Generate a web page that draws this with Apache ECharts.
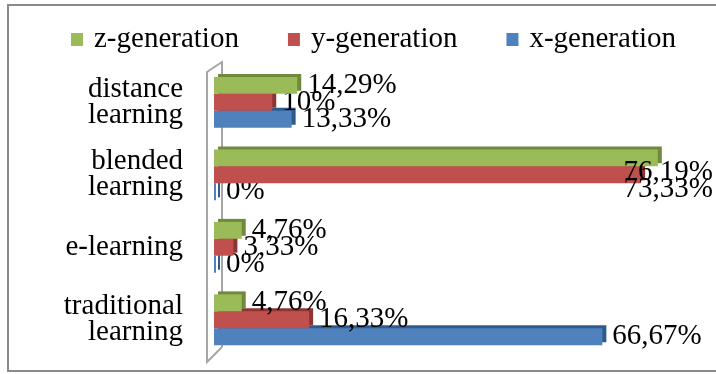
<!DOCTYPE html>
<html>
<head>
<meta charset="utf-8">
<script src="https://cdn.jsdelivr.net/npm/echarts@6/dist/echarts.min.js"></script>
<style>
html, body { margin: 0; padding: 0; background: #fff; }
#main { width: 716px; height: 374px; }
</style>
</head>
<body>
<div id="main"></div>
<script>
// categories, bottom to top
var categories = ['traditional\nlearning', 'e-learning', 'blended\nlearning', 'distance\nlearning'];
var xGeneration = [66.67, 0, 0, 13.33];
var yGeneration = [16.33, 3.33, 73.33, 10];
var zGeneration = [4.76, 4.76, 76.19, 14.29];
var legendNames = ['z-generation', 'y-generation', 'x-generation'];

(function (){
var dom = document.getElementById("main");
var myChart = echarts.init(dom);
var option = null;

var font = 'Liberation Serif';

function pct(p) {
    return String(p.value).replace('.', ',') + '%';
}

function barSeries(name, data, color, dark, zz) {
    return {
        name: name,
        type: 'bar',
        z: zz,
        data: data,
        barGap: '0%',
        barCategoryGap: '30%',
        barMinHeight: 2,
        itemStyle: {
            color: color,
            shadowColor: dark,
            shadowOffsetX: 4,
            shadowOffsetY: -3,
            shadowBlur: 0
        },
        label: {
            show: true,
            position: 'right',
            distance: 10,
            formatter: pct,
            color: '#000',
            fontFamily: font,
            fontSize: 29
        }
    };
}

option = {
    backgroundColor: '#fff',
    animation: false,
    textStyle: { fontFamily: font },
    legend: {
        data: legendNames,
        left: 66,
        top: 20,
        itemWidth: 12,
        itemHeight: 13,
        itemGap: 49,
        icon: 'rect',
        textStyle: {
            fontFamily: font,
            fontSize: 29,
            color: '#000',
            padding: [0, 0, 0, 6]
        }
    },
    grid: {
        left: 214,
        right: 36,
        top: 66,
        bottom: 18
    },
    xAxis: {
        type: 'value',
        min: 0,
        max: 80,
        show: false
    },
    yAxis: {
        type: 'category',
        data: categories,
        axisLine: { show: false },
        axisTick: { show: false },
        axisLabel: {
            margin: 31,
            color: '#000',
            fontFamily: font,
            fontSize: 29,
            lineHeight: 26
        }
    },
    // labels that run past the right edge are pulled back inside
    labelLayout: function (params) {
        var r = params.labelRect;
        if (r.x + r.width > 713) {
            return { x: 713 - r.width };
        }
    },
    graphic: [
        // outer frame
        {
            type: 'rect',
            z: -1,
            shape: { x: 8, y: 5, width: 780, height: 366 },
            style: { fill: 'none', stroke: '#8a8a8a', lineWidth: 2 }
        },
        // side wall of the 3D chart
        {
            type: 'polyline',
            z: 0,
            shape: { points: [[222, 347], [207, 362], [207, 72], [222, 62], [222, 347]] },
            style: { fill: 'none', stroke: '#a6a6a6', lineWidth: 2 }
        }
    ],
    series: [
        barSeries('z-generation', zGeneration, '#9BBB59', '#6F8A3A', 6),
        barSeries('y-generation', yGeneration, '#C0504D', '#8E3533', 4),
        barSeries('x-generation', xGeneration, '#4F81BD', '#2F5A8C', 2)
    ]
};

if (option && typeof option === "object") {
    myChart.setOption(option, true);
}
})();
</script>
</body>
</html>
